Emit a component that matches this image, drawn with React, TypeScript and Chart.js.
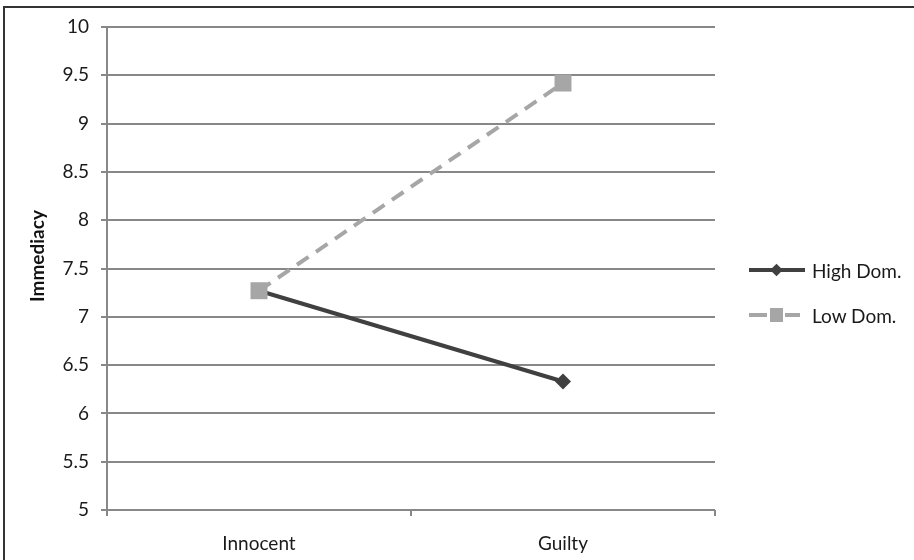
import { useEffect, useRef } from 'react';
import { Chart, ChartConfiguration, registerables } from 'chart.js';

Chart.register(...registerables);

// Data
const categories = ['Innocent', 'Guilty'];
const highDom = [7.27, 6.33];
const lowDom = [7.27, 9.42];
const yMin = 5;
const yMax = 10;
const yStep = 0.5;
const yTitle = 'Immediacy';

const FONT = 'Lato, "Open Sans", sans-serif';

export default function App() {
  const canvasRef = useRef<HTMLCanvasElement>(null);
  const chartRef = useRef<Chart | null>(null);

  useEffect(() => {
    if (!canvasRef.current) return;
    if (chartRef.current) chartRef.current.destroy();

    const config: ChartConfiguration = {
      type: 'line',
      data: {
        labels: categories,
        datasets: [
          {
            label: 'High Dom.',
            data: highDom,
            order: 2,
            borderColor: '#404040',
            backgroundColor: '#404040',
            borderWidth: 4,
            pointStyle: 'rectRot',
            pointRadius: 8,
            pointBorderWidth: 0,
          },
          {
            label: 'Low Dom.',
            data: lowDom,
            order: 1,
            borderColor: '#a6a6a6',
            backgroundColor: '#a6a6a6',
            borderWidth: 4,
            borderDash: [14, 9],
            pointStyle: 'rect',
            pointRadius: 12,
            pointBorderWidth: 0,
          },
        ],
      },
      options: {
        animation: false,
        responsive: false,
        maintainAspectRatio: false,
        layout: { padding: { left: 22, top: 27, right: 199, bottom: 0 } },
        plugins: {
          legend: { display: false },
          tooltip: { enabled: false },
        },
        scales: {
          x: {
            offset: true,
            grid: {
              offset: true,
              drawOnChartArea: false,
              drawTicks: true,
              tickLength: 6,
              color: '#888888',
              lineWidth: 2,
            },
            border: { display: false },
            ticks: {
              color: '#1a1a1a',
              font: { family: FONT, size: 19 },
              padding: 16,
            },
            afterFit: (s: any) => {
              s.height = 50;
            },
          },
          y: {
            min: yMin,
            max: yMax,
            ticks: {
              stepSize: yStep,
              color: '#1a1a1a',
              font: { family: FONT, size: 19 },
              padding: 12,
              callback: (v: any) => String(v),
            },
            grid: {
              color: '#888888',
              lineWidth: 2,
              tickLength: 6,
            },
            border: { display: true, color: '#888888', width: 2 },
            afterFit: (s: any) => {
              s.width = 85;
            },
          },
        },
      },
    };

    chartRef.current = new Chart(canvasRef.current, config);

    return () => {
      if (chartRef.current) {
        chartRef.current.destroy();
        chartRef.current = null;
      }
    };
  }, []);

  const legendText = {
    fontFamily: FONT,
    fontSize: 19,
    color: '#1a1a1a',
    marginLeft: 6,
  } as const;

  return (
    <div
      style={{
        position: 'fixed',
        left: 0,
        top: 0,
        width: 914,
        height: 560,
        background: '#ffffff',
        overflow: 'hidden',
      }}
    >
      <canvas ref={canvasRef} width={914} height={560} style={{ position: 'absolute', left: 0, top: 0 }} />
      {/* frame */}
      <div
        style={{
          position: 'absolute',
          left: 3,
          top: 6,
          width: 920,
          height: 600,
          borderLeft: '2px solid #333333',
          borderTop: '2px solid #333333',
          pointerEvents: 'none',
        }}
      />
      {/* y axis title */}
      <div
        style={{
          position: 'absolute',
          left: 36,
          top: 256,
          transform: 'translate(-50%, -50%) rotate(-90deg)',
          fontFamily: FONT,
          fontSize: 19,
          fontWeight: 'bold',
          color: '#111111',
          whiteSpace: 'nowrap',
        }}
      >
        {yTitle}
      </div>
      {/* legend */}
      <div style={{ position: 'absolute', left: 748, top: 259, display: 'flex', alignItems: 'center', height: 22 }}>
        <svg width={58} height={22}>
          <line x1={1} y1={11} x2={57} y2={11} stroke="#404040" strokeWidth={4} />
          <rect x={24} y={6.5} width={9} height={9} fill="#404040" transform="rotate(45 28.5 11)" />
        </svg>
        <span style={legendText}>High Dom.</span>
      </div>
      <div style={{ position: 'absolute', left: 748, top: 304, display: 'flex', alignItems: 'center', height: 22 }}>
        <svg width={58} height={22}>
          <line x1={1} y1={11} x2={19} y2={11} stroke="#a6a6a6" strokeWidth={4} />
          <line x1={37} y1={11} x2={52} y2={11} stroke="#a6a6a6" strokeWidth={4} />
          <rect x={22} y={4} width={13} height={14} fill="#a6a6a6" />
        </svg>
        <span style={legendText}>Low Dom.</span>
      </div>
    </div>
  );
}
